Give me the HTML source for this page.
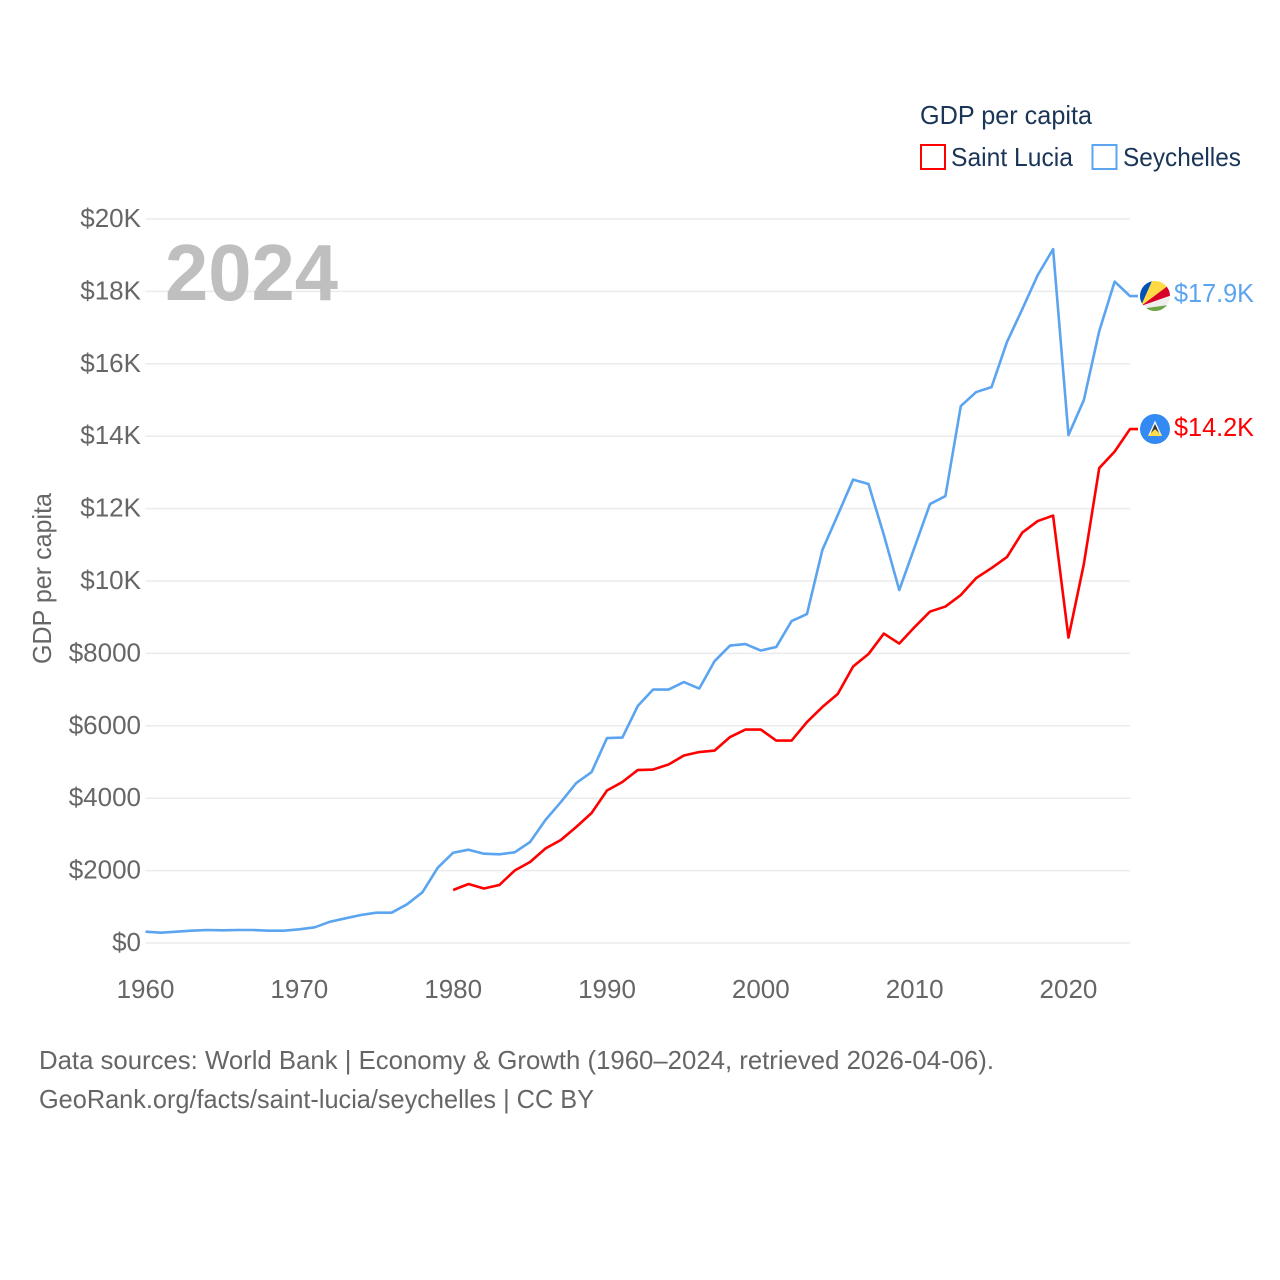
<!DOCTYPE html>
<html lang="en">
<head>
<meta charset="utf-8">
<title>GDP per capita: Saint Lucia and Seychelles</title>
<style>
html,body{margin:0;padding:0;background:#fff;width:1280px;height:1280px;overflow:hidden}
svg{display:block}
text{font-family:"Liberation Sans",sans-serif}
</style>
</head>
<body>
<svg id="chart" xmlns="http://www.w3.org/2000/svg" width="1280" height="1280" viewBox="0 0 1280 1280">
  <defs>
    <clipPath id="flag-sc-clip"><circle cx="1155" cy="296" r="15"/></clipPath>
    <clipPath id="flag-lc-clip"><circle cx="1155" cy="429" r="15"/></clipPath>
  </defs>
  <g id="grid"></g>
  <g id="y-ticks"></g>
  <g id="x-ticks"></g>
  <text x="165" y="300" font-size="80" font-weight="700" fill="#bfbfbf" textLength="173" lengthAdjust="spacingAndGlyphs">2024</text>
  <text transform="translate(51,664) rotate(-90)" font-size="26" fill="#666" textLength="171" lengthAdjust="spacingAndGlyphs">GDP per capita</text>
  <g id="series"></g>

  <g>
    <text x="920" y="124" font-size="26" fill="#1a3557" textLength="172" lengthAdjust="spacingAndGlyphs">GDP per capita</text>
    <g>
      <rect x="921" y="145" width="24" height="24" fill="none" stroke="#ff0000" stroke-width="2"/>
      <text x="951" y="166" font-size="26" fill="#1a3557" textLength="122" lengthAdjust="spacingAndGlyphs">Saint Lucia</text>
    </g>
    <g>
      <rect x="1092.500" y="145" width="24" height="24" fill="none" stroke="#5ba4f0" stroke-width="2"/>
      <text x="1123" y="166" font-size="26" fill="#1a3557" textLength="118" lengthAdjust="spacingAndGlyphs">Seychelles</text>
    </g>
  </g>

  <g clip-path="url(#flag-sc-clip)">
    <rect x="1140" y="281" width="30" height="30" fill="#eeeeee"/>
    <polygon points="1141,306 1130,306 1130,270 1157,270" fill="#0052b4"/>
    <polygon points="1141,306 1157,270 1185,270 1175,280.500" fill="#ffda44"/>
    <polygon points="1141,306 1175,280.500 1175,294" fill="#d80027"/>
    <polygon points="1147,308 1175,304 1175,315 1147,315" fill="#6da544"/>
  </g>
  <g clip-path="url(#flag-lc-clip)">
    <rect x="1140" y="414" width="30" height="30" fill="#338af3"/>
    <polygon points="1155,420.500 1162,436 1148,436" fill="#f3f3f3"/>
    <polygon points="1155,424 1160,435 1150,435" fill="#333333"/>
    <polygon points="1155,429 1162,436 1148,436" fill="#ffda44"/>
  </g>

  <text x="1174" y="302" font-size="26" fill="#5ba4f0" textLength="80" lengthAdjust="spacingAndGlyphs">$17.9K</text>
  <text x="1174" y="436" font-size="26" fill="#ff0000" textLength="80" lengthAdjust="spacingAndGlyphs">$14.2K</text>

  <text x="39" y="1069" font-size="26" fill="#666" textLength="955" lengthAdjust="spacingAndGlyphs">Data sources: World Bank | Economy &amp; Growth (1960–2024, retrieved 2026-04-06).</text>
  <text x="39" y="1108" font-size="26" fill="#666" textLength="555" lengthAdjust="spacingAndGlyphs">GeoRank.org/facts/saint-lucia/seychelles | CC BY</text>
</svg>
<script>
const startYear = 1960;
const endYear = 2024;
const yTickValues = [0, 2000, 4000, 6000, 8000, 10000, 12000, 14000, 16000, 18000, 20000];
const yTickLabels = ["$0", "$2000", "$4000", "$6000", "$8000", "$10K", "$12K", "$14K", "$16K", "$18K", "$20K"];
const xTickYears = [1960, 1970, 1980, 1990, 2000, 2010, 2020];
const seychellesValues = [312, 284, 312, 340, 359, 350, 359, 359, 340, 340,
  378, 434, 588, 682, 773, 837, 837, 1069, 1400, 2080,
  2494, 2577, 2466, 2450, 2505, 2790, 3397, 3894, 4419, 4723,
  5662, 5676, 6546, 7002, 7002, 7209, 7029, 7789, 8217, 8258,
  8079, 8176, 8894, 9087, 10855, 11821, 12802, 12678, 11269, 9750,
  10938, 12125, 12346, 14832, 15219, 15357, 16600, 17511, 18450, 19168,
  14031, 14998, 16904, 18271, 17870];
const saintLuciaStartYear = 1980;
const saintLuciaValues = [1464, 1630, 1505, 1602, 2002, 2237, 2610, 2845, 3204, 3591,
  4212, 4447, 4778, 4792, 4930, 5179, 5275, 5317, 5690, 5897,
  5897, 5593, 5593, 6104, 6518, 6877, 7637, 7982, 8548, 8272,
  8728, 9156, 9294, 9612, 10081, 10357, 10661, 11338, 11656, 11808,
  8438, 10468, 13120, 13575, 14197];

const NS = 'http://www.w3.org/2000/svg';
const plotLeft = 145.5, plotRight = 1130, plotTop = 219, plotBottom = 943, maxValue = 20000;
function xScale(year) { return plotLeft + (year - startYear) * (plotRight - plotLeft) / (endYear - startYear); }
function yScale(value) { return plotBottom - value * (plotBottom - plotTop) / maxValue; }
function make(tag, attrs) {
  const el = document.createElementNS(NS, tag);
  for (const k in attrs) el.setAttribute(k, attrs[k]);
  return el;
}
const grid = document.getElementById('grid');
const yTicks = document.getElementById('y-ticks');
const xTicks = document.getElementById('x-ticks');
const series = document.getElementById('series');

yTickValues.forEach(function (v, i) {
  const line = make('line', { x1: plotLeft, x2: plotRight, y1: yScale(v), y2: yScale(v), stroke: '#ebebeb', 'stroke-width': 1.5 });
  
  
  grid.appendChild(line);
  const t = make('text', { x: 141, y: yScale(v) + 8, 'font-size': 26, fill: '#666', 'text-anchor': 'end' });
  
  
  t.textContent = yTickLabels[i];
  yTicks.appendChild(t);
});

xTickYears.forEach(function (year) {
  const t = make('text', { x: xScale(year), y: 998, 'font-size': 26, fill: '#666', 'text-anchor': 'middle' });
  
  
  t.textContent = String(year);
  xTicks.appendChild(t);
});

function drawSeries(values, firstYear, color, name) {
  const pts = values.map(function (v, i) {
    return xScale(firstYear + i).toFixed(2) + ',' + yScale(v).toFixed(2);
  });
  const lastY = yScale(values[values.length - 1]).toFixed(2);
  pts.push('1138,' + lastY);
  const line = make('polyline', { points: pts.join(' '), fill: 'none', stroke: color, 'stroke-width': 2.6, 'stroke-linejoin': 'round' });
  
  
  series.appendChild(line);
}
drawSeries(seychellesValues, startYear, '#5ba4f0', 'line-seychelles');
drawSeries(saintLuciaValues, saintLuciaStartYear, '#ff0000', 'line-saint-lucia');
</script>
</body>
</html>
